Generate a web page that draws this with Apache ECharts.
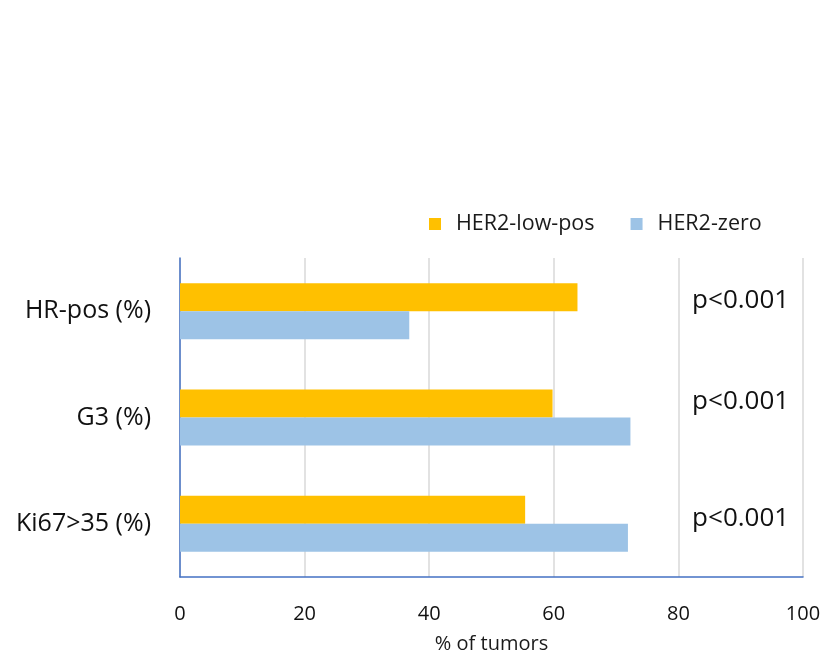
<!DOCTYPE html>
<html>
<head>
<meta charset="utf-8">
<script src="https://cdn.jsdelivr.net/npm/echarts@6/dist/echarts.min.js"></script>
<style>
  html, body { margin: 0; padding: 0; background: #fff; }
  #chart { width: 825px; height: 655px; }
</style>
</head>
<body>
<div id="chart"></div>
<script>
// Tumour characteristics by HER2 status
const categories = ['HR-pos (%)', 'G3 (%)', 'Ki67>35 (%)'];
const her2LowPos = [63.8, 59.8, 55.4];
const her2Zero = [36.8, 72.3, 71.9];
const pValues = ['p<0.001', 'p<0.001', 'p<0.001'];
const xTicks = [0, 20, 40, 60, 80, 100];

const FONT = '"Open Sans", Lato, sans-serif';
const chart = echarts.init(document.getElementById('chart'));

const option = {
  backgroundColor: '#ffffff',
  textStyle: { fontFamily: FONT },
  animation: false,
  legend: {
    top: 208,
    left: 424,
    itemWidth: 12,
    itemHeight: 12,
    itemGap: 36,
    icon: 'rect',
    textStyle: { fontSize: 21.5, color: '#1a1a1a', fontFamily: FONT, padding: [0, 0, 0, 10] },
    data: ['HER2-low-pos', 'HER2-zero']
  },
  grid: { left: 180, right: 22, top: 258, bottom: 73, containLabel: false },
  xAxis: {
    type: 'value',
    min: xTicks[0],
    max: xTicks[xTicks.length - 1],
    interval: 20,
    name: '% of tumors',
    nameLocation: 'middle',
    nameGap: 57,
    nameTextStyle: { fontSize: 20, color: '#1a1a1a', fontFamily: FONT },
    axisLine: { show: true, lineStyle: { color: '#4472C4', width: 1.5 } },
    axisTick: { show: false },
    axisLabel: { fontSize: 20, color: '#111', margin: 27, fontFamily: FONT },
    splitLine: { show: true, lineStyle: { color: '#d9d9d9', width: 1.5 } }
  },
  yAxis: {
    type: 'category',
    inverse: true,
    data: categories,
    axisLine: { show: true, lineStyle: { color: '#4472C4', width: 1.5 } },
    axisTick: { show: false },
    axisLabel: { fontSize: 25, color: '#111', margin: 29, fontFamily: FONT },
    splitLine: { show: false }
  },
  series: [
    {
      name: 'HER2-low-pos',
      type: 'bar',
      data: her2LowPos,
      barWidth: 28,
      barGap: '0%',
      itemStyle: { color: '#FFC000' }
    },
    {
      name: 'HER2-zero',
      type: 'bar',
      data: her2Zero,
      barWidth: 28,
      barGap: '0%',
      itemStyle: { color: '#9DC3E6' }
    }
  ]
};
chart.setOption(option);

// p-value annotations placed to the right of each category group
const pOffsets = [-11, -16, -5];
const graphics = pValues.map(function (txt, i) {
  const pt = chart.convertToPixel({ gridIndex: 0 }, [82.2, categories[i]]);
  return {
    type: 'text',
    x: pt[0],
    y: pt[1] + pOffsets[i],
    style: { text: txt, fontSize: 26, fill: '#111', fontFamily: FONT, verticalAlign: 'middle', align: 'left' }
  };
});
chart.setOption({ graphic: graphics });
</script>
</body>
</html>
